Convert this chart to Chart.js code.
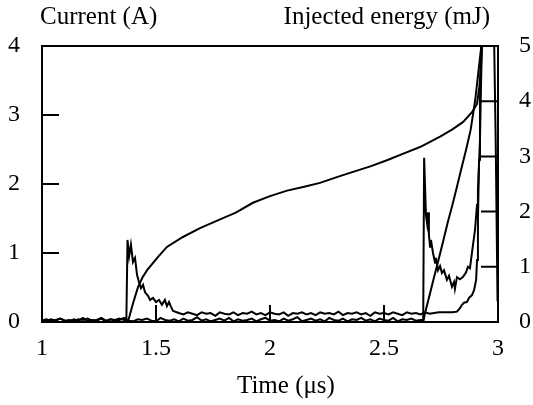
<!DOCTYPE html>
<html lang="en">
<head>
<meta charset="UTF-8">
<title>Current and injected energy</title>
<script src="https://cdn.jsdelivr.net/npm/chart.js"></script>
<style>
  html, body { margin: 0; padding: 0; background: #fff; }
  #wrap { position: relative; width: 533px; height: 405px; font-family: "Liberation Serif", "Times New Roman", serif; color: #000; }
  #chart { position: absolute; left: 0; top: 0; }
  .lbl { position: absolute; font-size: 25px; line-height: 25px; white-space: nowrap; }
</style>
</head>
<body>
<div id="wrap">
  <canvas id="chart" width="533" height="405"></canvas>
  <div class="lbl" style="left:40px; top:3px;">Current (A)</div>
  <div class="lbl" style="right:43px; top:3px;">Injected energy (mJ)</div>
  <div class="lbl" style="left:237px; top:372px;">Time (μs)</div>
</div>

<script>
// axis ticks
const xTicks = [1, 1.5, 2, 2.5, 3];
const xTickLabels = ['1', '1.5', '2', '2.5', '3'];
const curTicks = [0, 1, 2, 3, 4];
const curTickLabels = ['0', '1', '2', '3', '4'];
const enTicks = [0, 1, 2, 3, 4, 5];
const enTickLabels = ['0', '1', '2', '3', '4', '5'];

// current, first breakdown (A)
const curATime = [
  1.00,1.02,1.04,1.06,1.08,1.10,1.12,1.14,1.16,1.18,1.20,1.22,1.24,1.26,1.28,1.30,1.32,1.34,1.36,
  1.37,1.375,1.382,1.39,1.399,1.408,1.417,1.425,1.434,1.443,1.452,1.465,1.474,1.487,1.50,1.513,1.526,1.539,1.548,1.557,1.566,1.575,
  1.60,1.62,1.64,1.66,1.68,1.70,1.72,1.74,1.76,1.78,1.80,1.82,1.84,1.86,1.88,1.90,1.92,1.94,1.96,1.98,
  2.00,2.02,2.04,2.06,2.08,2.10,2.12,2.14,2.16,2.18,2.20,2.22,2.24,2.26,2.28,2.30,2.32,2.34,2.36,2.38,
  2.40,2.42,2.44,2.46,2.48,2.50,2.52,2.54,2.56,2.58,2.60,2.62,2.64,2.66,2.68,2.70,2.72,2.74,2.76,2.78,
  2.80,2.82,
  2.833,2.842,2.851,2.864,2.873,2.886,2.895,2.904,2.908,2.912,2.917,2.921,2.925,2.93,2.94,2.975,2.982,2.99,2.998
];
const curAVal = [
  0.03,0.02,0.04,0.02,0.05,0.02,0.03,0.02,0.04,0.03,0.05,0.02,0.03,0.06,0.02,0.04,0.03,0.05,0.03,
  0.03,1.19,0.95,1.12,0.87,0.93,0.68,0.58,0.49,0.54,0.43,0.38,0.32,0.35,0.29,0.32,0.25,0.32,0.23,0.29,0.22,0.16,
  0.13,0.11,0.14,0.12,0.10,0.14,0.12,0.13,0.09,0.14,0.12,0.11,0.14,0.10,0.13,0.12,0.15,0.11,0.13,0.10,
  0.14,0.12,0.11,0.14,0.09,0.13,0.12,0.14,0.11,0.13,0.10,0.14,0.12,0.13,0.11,0.15,0.10,0.13,0.12,0.14,
  0.11,0.13,0.09,0.14,0.12,0.13,0.11,0.14,0.12,0.10,0.14,0.12,0.13,0.11,0.14,0.12,0.13,0.14,0.14,0.14,
  0.14,0.15,
  0.20,0.25,0.28,0.29,0.35,0.39,0.46,0.61,0.90,1.48,2.35,3.20,3.90,4.40,4.80,4.80,4.30,2.60,0.30
];

// current, second breakdown (A)
const curBTime = [
  1.00,1.02,1.04,1.06,1.08,1.10,1.12,1.14,1.16,1.18,1.20,1.22,1.24,1.26,1.28,1.30,1.32,1.34,1.36,1.38,
  1.40,1.42,1.44,1.46,1.48,1.50,1.52,1.54,1.56,1.58,1.60,1.62,1.64,1.66,1.68,1.70,1.72,1.74,1.76,1.78,
  1.80,1.82,1.84,1.86,1.88,1.90,1.92,1.94,1.96,1.98,2.00,2.02,2.04,2.06,2.08,2.10,2.12,2.14,2.16,2.18,
  2.20,2.22,2.24,2.26,2.28,2.30,2.32,2.34,2.36,2.38,2.40,2.42,2.44,2.46,2.48,2.50,2.52,2.54,2.56,2.58,
  2.60,2.62,2.64,2.66,
  2.672,2.676,2.684,2.689,2.693,2.697,2.702,2.706,2.715,2.724,2.728,2.737,2.746,2.754,2.763,2.776,2.785,
  2.798,2.807,2.811,2.82,2.833,2.846,2.86,2.868,2.877,2.886,2.899,2.908,2.912,2.921,2.925,2.93,2.935
];
const curBVal = [
  0.02,0.04,0.01,0.03,0.05,0.02,0.01,0.04,0.02,0.06,0.01,0.03,0.02,0.05,0.01,0.04,0.02,0.03,0.06,0.02,
  0.01,0.04,0.03,0.05,0.02,0.01,0.06,0.03,0.02,0.04,0.01,0.05,0.02,0.03,0.07,0.02,0.04,0.01,0.03,0.05,
  0.02,0.06,0.01,0.04,0.02,0.03,0.05,0.01,0.04,0.06,0.02,0.03,0.01,0.05,0.02,0.04,0.07,0.01,0.03,0.05,
  0.02,0.04,0.01,0.06,0.03,0.02,0.05,0.01,0.04,0.03,0.06,0.02,0.04,0.01,0.05,0.03,0.02,0.06,0.01,0.04,
  0.03,0.05,0.02,0.03,
  0.03,2.38,1.55,1.43,1.59,1.26,1.09,1.19,1.00,0.86,0.93,0.75,0.81,0.71,0.75,0.61,0.67,
  0.51,0.58,0.48,0.65,0.62,0.65,0.72,0.80,0.78,1.01,1.33,1.70,1.91,2.64,3.36,4.10,4.60
];

// injected energy, first breakdown (mJ)
const enATime = [1.00,1.37,1.38,1.40,1.421,1.44,1.461,1.509,1.548,1.618,1.693,1.781,1.85,1.925,2.00,2.075,2.15,
  2.219,2.29,2.364,2.44,2.513,2.585,2.658,2.70,2.746,2.80,2.846,2.886,2.908,2.918,2.925,2.932];
const enAVal = [0,0,0.05,0.35,0.63,0.80,0.94,1.18,1.36,1.54,1.70,1.86,1.98,2.16,2.28,2.38,2.45,
  2.52,2.62,2.72,2.82,2.93,3.05,3.17,3.26,3.36,3.49,3.62,3.80,3.95,4.25,4.60,5.20];

// injected energy, second breakdown (mJ)
const enBTime = [1.00,2.672,2.68,2.70,2.72,2.74,2.76,2.78,2.80,2.82,2.84,2.86,2.88,2.90,2.92,2.93];
const enBVal = [0,0,0.16,0.49,0.82,1.14,1.47,1.81,2.12,2.45,2.79,3.12,3.48,4.02,4.75,5.10];

const pts = (t, v) => t.map((x, i) => ({ x: x, y: v[i] }));
const font = { family: '"Liberation Serif", "Times New Roman", serif', size: 24 };

// box round the plot plus short ticks pointing inwards
const frame = {
  id: 'frame',
  afterDatasetsDraw(chart) {
    const { ctx, chartArea: a, scales } = chart;
    const len = 17;
    ctx.save();
    ctx.strokeStyle = '#000';
    ctx.lineWidth = 2;
    ctx.strokeRect(a.left, a.top, a.right - a.left, a.bottom - a.top);
    ctx.beginPath();
    xTicks.slice(1, -1).forEach(v => {
      const p = scales.x.getPixelForValue(v);
      ctx.moveTo(p, a.bottom); ctx.lineTo(p, a.bottom - len);
    });
    curTicks.slice(1, -1).forEach(v => {
      const p = scales.y.getPixelForValue(v);
      ctx.moveTo(a.left, p); ctx.lineTo(a.left + len, p);
    });
    enTicks.slice(1, -1).forEach(v => {
      const p = scales.y2.getPixelForValue(v);
      ctx.moveTo(a.right, p); ctx.lineTo(a.right - len, p);
    });
    ctx.stroke();
    ctx.restore();
  }
};

const line = (data, axis) => ({
  data: data,
  yAxisID: axis,
  borderColor: '#000',
  borderWidth: 2,
  pointRadius: 0,
  tension: 0,
  fill: false
});

new Chart(document.getElementById('chart'), {
  type: 'line',
  data: {
    datasets: [
      line(pts(curATime, curAVal), 'y'),
      line(pts(curBTime, curBVal), 'y'),
      line(pts(enATime, enAVal), 'y2'),
      line(pts(enBTime, enBVal), 'y2')
    ]
  },
  options: {
    responsive: false,
    animation: false,
    layout: { padding: { top: 46, left: 0, right: 0, bottom: 0 } },
    plugins: { legend: { display: false }, tooltip: { enabled: false } },
    scales: {
      x: {
        type: 'linear', min: 1, max: 3,
        afterBuildTicks: s => { s.ticks = xTicks.map(v => ({ value: v })); },
        afterFit: s => { s.height = 83; },
        ticks: { callback: (v, i) => xTickLabels[i], font: font, color: '#000', padding: 12, maxRotation: 0, autoSkip: false },
        grid: { display: false, drawTicks: false },
        border: { display: false }
      },
      y: {
        position: 'left', min: 0, max: 4,
        afterBuildTicks: s => { s.ticks = curTicks.map(v => ({ value: v })); },
        afterFit: s => { s.width = 42; },
        ticks: { callback: (v, i) => curTickLabels[i], font: font, color: '#000', padding: 22 },
        grid: { display: false, drawTicks: false },
        border: { display: false }
      },
      y2: {
        position: 'right', min: 0, max: 5,
        afterBuildTicks: s => { s.ticks = enTicks.map(v => ({ value: v })); },
        afterFit: s => { s.width = 35; },
        ticks: { callback: (v, i) => enTickLabels[i], font: font, color: '#000', padding: 21 },
        grid: { display: false, drawTicks: false },
        border: { display: false }
      }
    }
  },
  plugins: [frame]
});
</script>
</body>
</html>
